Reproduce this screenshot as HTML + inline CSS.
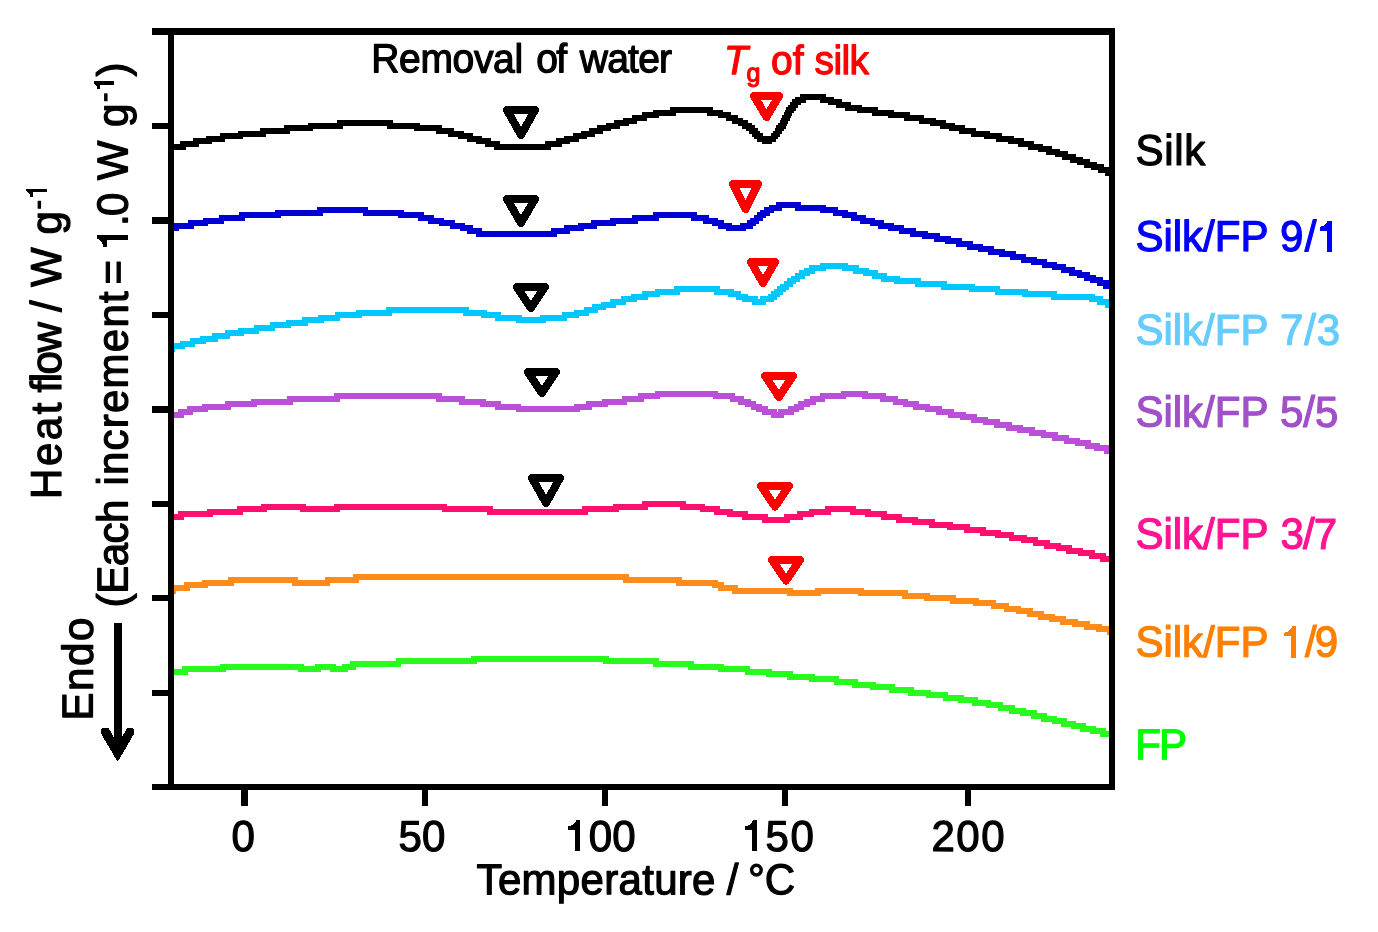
<!DOCTYPE html>
<html><head><meta charset="utf-8"><title>DSC</title>
<style>
html,body{margin:0;padding:0;background:#fff}
svg{display:block;will-change:transform}
text{font-family:"Liberation Sans",sans-serif}
</style></head><body>
<svg width="1378" height="932" viewBox="0 0 1378 932">
<rect width="1378" height="932" fill="#fff"/>
<clipPath id="cp"><rect x="171" y="32" width="941" height="755"/></clipPath>
<g shape-rendering="crispEdges" clip-path="url(#cp)">
<path fill="#000000" d="M168 144h12v6h-12zM180 141h6v9h-6zM186 141h7v6h-7zM193 138h6v9h-6zM199 138h7v6h-7zM206 136h6v8h-6zM212 136h8v6h-8zM220 133h5v9h-5zM225 133h13v6h-13zM238 131h5v8h-5zM243 131h17v6h-17zM260 128h6v9h-6zM266 128h18v6h-18zM284 125h6v9h-6zM290 125h18v6h-18zM308 123h5v8h-5zM313 123h24v6h-24zM337 120h6v9h-6zM343 120h44v6h-44zM387 120h6v9h-6zM393 123h21v6h-21zM414 123h6v8h-6zM420 125h16v6h-16zM436 125h6v9h-6zM442 128h6v6h-6zM448 128h6v9h-6zM454 131h4v6h-4zM458 131h6v8h-6zM464 133h3v6h-3zM467 133h6v9h-6zM473 136h3v6h-3zM476 136h6v8h-6zM482 138h3v6h-3zM485 138h6v9h-6zM491 141h3v6h-3zM494 141h6v9h-6zM500 144h45v6h-45zM545 141h6v9h-6zM551 141h5v6h-5zM556 138h6v9h-6zM562 138h2v6h-2zM564 136h6v8h-6zM570 136h3v6h-3zM573 133h6v9h-6zM579 133h2v6h-2zM581 131h6v8h-6zM587 131h2v6h-2zM589 128h6v9h-6zM595 128h2v6h-2zM597 125h6v9h-6zM603 125h3v6h-3zM606 123h5v8h-5zM611 123h3v6h-3zM614 120h6v9h-6zM620 120h3v6h-3zM623 118h6v8h-6zM629 118h3v6h-3zM632 115h5v9h-5zM637 115h5v6h-5zM642 112h5v9h-5zM647 112h6v6h-6zM653 110h6v8h-6zM659 110h11v6h-11zM670 107h6v9h-6zM676 107h31v6h-31zM707 107h6v9h-6zM713 110h5v6h-5zM718 110h5v8h-5zM723 112h3v6h-3zM726 112h5v9h-5zM731 115h1v6h-1zM732 115h6v9h-6zM738 118h4v8h-4zM742 118h1v11h-1zM743 120h3v9h-3zM746 120h2v11h-2zM748 123h1v8h-1zM749 123h3v11h-3zM752 125h2v12h-2zM754 125h1v14h-1zM755 128h2v11h-2zM757 128h1v14h-1zM758 131h2v11h-2zM760 133h2v9h-2zM762 133h1v11h-1zM763 136h8v8h-8zM771 133h1v11h-1zM772 133h1v9h-1zM773 131h2v11h-2zM775 128h1v14h-1zM776 125h2v14h-2zM778 123h2v14h-2zM780 120h1v14h-1zM781 118h1v16h-1zM782 115h2v16h-2zM784 112h1v17h-1zM785 110h1v19h-1zM786 107h1v19h-1zM787 107h1v17h-1zM788 105h2v16h-2zM790 102h1v16h-1zM791 102h1v14h-1zM792 99h2v14h-2zM794 99h1v12h-1zM795 97h1v14h-1zM796 97h2v11h-2zM798 97h2v8h-2zM800 94h1v11h-1zM801 94h5v9h-5zM806 94h14v6h-14zM820 94h6v9h-6zM826 97h2v6h-2zM828 97h6v8h-6zM834 99h2v6h-2zM836 99h6v9h-6zM842 102h3v6h-3zM845 102h6v9h-6zM851 105h6v6h-6zM857 105h5v8h-5zM862 107h10v6h-10zM872 107h6v9h-6zM878 110h10v6h-10zM888 110h6v8h-6zM894 112h10v6h-10zM904 112h6v9h-6zM910 115h9v6h-9zM919 115h5v9h-5zM924 118h6v6h-6zM930 118h6v8h-6zM936 120h4v6h-4zM940 120h6v9h-6zM946 123h3v6h-3zM949 123h6v8h-6zM955 125h4v6h-4zM959 125h6v9h-6zM965 128h6v6h-6zM971 128h5v9h-5zM976 131h8v6h-8zM984 131h6v8h-6zM990 133h6v6h-6zM996 133h6v9h-6zM1002 136h6v6h-6zM1008 136h6v8h-6zM1014 138h4v6h-4zM1018 138h6v9h-6zM1024 141h4v6h-4zM1028 141h6v9h-6zM1034 144h4v6h-4zM1038 144h5v8h-5zM1043 146h3v6h-3zM1046 146h6v9h-6zM1052 149h3v6h-3zM1055 149h5v8h-5zM1060 151h2v6h-2zM1062 151h6v9h-6zM1068 154h2v6h-2zM1070 154h6v9h-6zM1076 157h1v6h-1zM1077 157h6v8h-6zM1083 159h1v6h-1zM1084 159h6v9h-6zM1090 162h1v6h-1zM1091 162h6v8h-6zM1097 164h1v6h-1zM1098 164h6v9h-6zM1104 167h1v6h-1zM1105 167h6v9h-6zM1111 170h4v6h-4z"/>
<path fill="#0000d2" d="M168 225h6v6h-6zM174 223h5v8h-5zM179 223h9v6h-9zM188 220h6v9h-6zM194 220h9v6h-9zM203 218h5v8h-5zM208 218h11v6h-11zM219 215h5v9h-5zM224 215h15v6h-15zM239 212h6v9h-6zM245 212h30v6h-30zM275 210h6v8h-6zM281 210h36v6h-36zM317 207h6v9h-6zM323 207h40v6h-40zM363 207h5v9h-5zM368 210h30v6h-30zM398 210h6v8h-6zM404 212h14v6h-14zM418 212h6v9h-6zM424 215h4v6h-4zM428 215h6v9h-6zM434 218h5v6h-5zM439 218h5v8h-5zM444 220h6v6h-6zM450 220h5v9h-5zM455 223h5v6h-5zM460 223h5v8h-5zM465 225h2v6h-2zM467 225h6v9h-6zM473 228h3v6h-3zM476 228h6v9h-6zM482 231h69v6h-69zM551 228h6v9h-6zM557 228h7v6h-7zM564 225h6v9h-6zM570 225h8v6h-8zM578 223h6v8h-6zM584 223h7v6h-7zM591 220h6v9h-6zM597 220h13v6h-13zM610 218h6v8h-6zM616 218h16v6h-16zM632 215h6v9h-6zM638 215h15v6h-15zM653 212h6v9h-6zM659 212h32v6h-32zM691 212h6v9h-6zM697 215h6v6h-6zM703 215h6v9h-6zM709 218h3v6h-3zM712 218h6v8h-6zM718 220h6v9h-6zM724 223h2v6h-2zM726 223h6v8h-6zM732 225h8v6h-8zM740 223h6v8h-6zM746 223h1v6h-1zM747 220h3v9h-3zM750 218h3v11h-3zM753 218h1v8h-1zM754 215h2v11h-2zM756 215h1v9h-1zM757 212h2v12h-2zM759 212h1v9h-1zM760 210h3v11h-3zM763 210h1v8h-1zM764 207h2v11h-2zM766 207h3v9h-3zM769 205h1v11h-1zM770 205h4v8h-4zM774 205h2v6h-2zM776 202h6v9h-6zM782 202h13v6h-13zM795 202h6v9h-6zM801 205h19v6h-19zM820 205h6v8h-6zM826 207h7v6h-7zM833 207h5v9h-5zM838 210h4v6h-4zM842 210h6v8h-6zM848 212h3v6h-3zM851 212h6v9h-6zM857 215h3v6h-3zM860 215h6v9h-6zM866 218h4v6h-4zM870 218h5v8h-5zM875 220h3v6h-3zM878 220h6v9h-6zM884 223h4v6h-4zM888 223h6v8h-6zM894 225h5v6h-5zM899 225h5v9h-5zM904 228h6v6h-6zM910 228h6v9h-6zM916 231h6v6h-6zM922 231h6v8h-6zM928 233h6v6h-6zM934 233h6v9h-6zM940 236h5v6h-5zM945 236h6v8h-6zM951 238h5v6h-5zM956 238h6v9h-6zM962 241h5v6h-5zM967 241h6v9h-6zM973 244h5v6h-5zM978 244h5v8h-5zM983 246h5v6h-5zM988 246h6v9h-6zM994 249h5v6h-5zM999 249h6v8h-6zM1005 251h5v6h-5zM1010 251h6v9h-6zM1016 254h5v6h-5zM1021 254h5v9h-5zM1026 257h5v6h-5zM1031 257h6v8h-6zM1037 259h5v6h-5zM1042 259h5v9h-5zM1047 262h5v6h-5zM1052 262h5v8h-5zM1057 264h4v6h-4zM1061 264h5v9h-5zM1066 267h3v6h-3zM1069 267h6v9h-6zM1075 270h2v6h-2zM1077 270h5v8h-5zM1082 272h2v6h-2zM1084 272h6v9h-6zM1090 275h6v8h-6zM1096 277h1v6h-1zM1097 277h6v9h-6zM1103 280h6v9h-6zM1109 283h6v6h-6z"/>
<path fill="#00c8ff" d="M168 346h1v6h-1zM169 343h6v9h-6zM175 343h5v6h-5zM180 341h5v8h-5zM185 341h5v6h-5zM190 338h5v9h-5zM195 338h5v6h-5zM200 336h6v8h-6zM206 336h6v6h-6zM212 333h6v9h-6zM218 333h7v6h-7zM225 330h5v9h-5zM230 330h8v6h-8zM238 328h6v8h-6zM244 328h10v6h-10zM254 325h5v9h-5zM259 325h11v6h-11zM270 322h5v9h-5zM275 322h11v6h-11zM286 320h5v8h-5zM291 320h11v6h-11zM302 317h6v9h-6zM308 317h10v6h-10zM318 315h6v8h-6zM324 315h11v6h-11zM335 312h5v9h-5zM340 312h16v6h-16zM356 310h6v8h-6zM362 310h24v6h-24zM386 307h6v9h-6zM392 307h71v6h-71zM463 307h6v9h-6zM469 310h12v6h-12zM481 310h6v8h-6zM487 312h8v6h-8zM495 312h6v9h-6zM501 315h15v6h-15zM516 315h6v8h-6zM522 317h18v6h-18zM540 315h6v8h-6zM546 315h16v6h-16zM562 312h5v9h-5zM567 312h7v6h-7zM574 310h5v8h-5zM579 310h5v6h-5zM584 307h5v9h-5zM589 307h3v6h-3zM592 304h6v9h-6zM598 304h3v6h-3zM601 302h5v8h-5zM606 302h4v6h-4zM610 299h6v9h-6zM616 299h5v6h-5zM621 296h5v9h-5zM626 296h5v6h-5zM631 294h6v8h-6zM637 294h5v6h-5zM642 291h6v9h-6zM648 291h7v6h-7zM655 289h5v8h-5zM660 289h14v6h-14zM674 286h6v9h-6zM680 286h34v6h-34zM714 286h6v9h-6zM720 289h8v6h-8zM728 289h6v8h-6zM734 291h2v6h-2zM736 291h5v9h-5zM741 294h1v6h-1zM742 294h6v8h-6zM748 296h4v6h-4zM752 296h6v9h-6zM758 299h2v6h-2zM760 296h6v9h-6zM766 296h2v6h-2zM768 294h3v8h-3zM771 291h3v11h-3zM774 289h3v11h-3zM777 286h3v11h-3zM780 284h3v11h-3zM783 284h1v8h-1zM784 281h2v11h-2zM786 281h1v9h-1zM787 278h2v12h-2zM789 278h2v9h-2zM791 276h2v11h-2zM793 276h2v8h-2zM795 273h1v11h-1zM796 273h3v9h-3zM799 270h1v12h-1zM800 270h4v9h-4zM804 268h1v11h-1zM805 268h4v8h-4zM809 265h1v11h-1zM810 265h5v9h-5zM815 265h5v6h-5zM820 263h6v8h-6zM826 263h16v6h-16zM842 263h6v8h-6zM848 265h5v6h-5zM853 265h6v9h-6zM859 268h4v6h-4zM863 268h6v8h-6zM869 270h3v6h-3zM872 270h6v9h-6zM878 273h3v6h-3zM881 273h6v9h-6zM887 276h7v6h-7zM894 276h6v8h-6zM900 278h15v6h-15zM915 278h6v9h-6zM921 281h20v6h-20zM941 281h6v9h-6zM947 284h22v6h-22zM969 284h6v8h-6zM975 286h20v6h-20zM995 286h5v9h-5zM1000 289h22v6h-22zM1022 289h6v8h-6zM1028 291h23v6h-23zM1051 291h6v9h-6zM1057 294h32v6h-32zM1089 294h6v8h-6zM1095 296h2v6h-2zM1097 296h6v9h-6zM1103 299h2v6h-2zM1105 299h6v9h-6zM1111 302h4v6h-4z"/>
<path fill="#ba50d8" d="M168 412h10v6h-10zM178 409h6v9h-6zM184 409h3v6h-3zM187 406h6v9h-6zM193 406h9v6h-9zM202 404h6v8h-6zM208 404h17v6h-17zM225 401h6v9h-6zM231 401h20v6h-20zM251 399h6v8h-6zM257 399h30v6h-30zM287 396h6v9h-6zM293 396h41v6h-41zM334 393h6v9h-6zM340 393h96v6h-96zM436 393h6v9h-6zM442 396h17v6h-17zM459 396h6v9h-6zM465 399h15v6h-15zM480 399h6v8h-6zM486 401h9v6h-9zM495 401h6v9h-6zM501 404h15v6h-15zM516 404h5v8h-5zM521 406h53v6h-53zM574 404h6v8h-6zM580 404h6v6h-6zM586 401h6v9h-6zM592 401h10v6h-10zM602 399h6v8h-6zM608 399h14v6h-14zM622 396h5v9h-5zM627 396h11v6h-11zM638 393h6v9h-6zM644 393h11v6h-11zM655 391h5v8h-5zM660 391h53v6h-53zM713 391h5v8h-5zM718 393h12v6h-12zM730 393h5v9h-5zM735 396h3v6h-3zM738 396h6v9h-6zM744 399h1v6h-1zM745 399h6v8h-6zM751 401h5v9h-5zM756 404h6v8h-6zM762 406h6v9h-6zM768 409h3v6h-3zM771 409h6v9h-6zM777 412h1v6h-1zM778 409h6v9h-6zM784 409h4v6h-4zM788 406h6v9h-6zM794 404h4v8h-4zM798 401h1v11h-1zM799 401h5v9h-5zM804 399h6v8h-6zM810 396h6v9h-6zM816 396h4v6h-4zM820 393h5v9h-5zM825 393h16v6h-16zM841 391h5v8h-5zM846 391h16v6h-16zM862 391h6v8h-6zM868 393h12v6h-12zM880 393h6v9h-6zM886 396h7v6h-7zM893 396h5v9h-5zM898 399h5v6h-5zM903 399h5v8h-5zM908 401h5v6h-5zM913 401h6v9h-6zM919 404h6v6h-6zM925 404h5v8h-5zM930 406h6v6h-6zM936 406h6v9h-6zM942 409h6v6h-6zM948 409h6v9h-6zM954 412h6v6h-6zM960 412h6v8h-6zM966 414h5v6h-5zM971 414h6v9h-6zM977 417h6v6h-6zM983 417h5v8h-5zM988 419h6v6h-6zM994 419h6v9h-6zM1000 422h6v6h-6zM1006 422h6v9h-6zM1012 425h5v6h-5zM1017 425h6v8h-6zM1023 427h6v6h-6zM1029 427h6v9h-6zM1035 430h6v6h-6zM1041 430h5v8h-5zM1046 432h6v6h-6zM1052 432h6v9h-6zM1058 435h6v6h-6zM1064 435h5v9h-5zM1069 438h6v6h-6zM1075 438h5v8h-5zM1080 440h5v6h-5zM1085 440h6v9h-6zM1091 443h3v6h-3zM1094 443h6v8h-6zM1100 445h4v6h-4zM1104 445h6v9h-6zM1110 448h5v6h-5z"/>
<path fill="#ff0f6e" d="M168 514h10v6h-10zM178 511h6v9h-6zM184 511h23v6h-23zM207 509h6v8h-6zM213 509h24v6h-24zM237 506h6v9h-6zM243 506h18v6h-18zM261 504h6v8h-6zM267 504h33v6h-33zM300 504h6v8h-6zM306 506h28v6h-28zM334 504h6v8h-6zM340 504h102v6h-102zM442 504h5v8h-5zM447 506h40v6h-40zM487 506h6v9h-6zM493 509h89v6h-89zM582 506h6v9h-6zM588 506h25v6h-25zM613 504h6v8h-6zM619 504h23v6h-23zM642 501h6v9h-6zM648 501h32v6h-32zM680 501h6v9h-6zM686 504h14v6h-14zM700 504h5v8h-5zM705 506h9v6h-9zM714 506h6v9h-6zM720 509h7v6h-7zM727 509h6v8h-6zM733 511h9v6h-9zM742 511h6v9h-6zM748 514h14v6h-14zM762 514h6v9h-6zM768 517h16v6h-16zM784 514h6v9h-6zM790 514h7v6h-7zM797 511h6v9h-6zM803 511h6v6h-6zM809 509h5v8h-5zM814 509h11v6h-11zM825 506h6v9h-6zM831 506h19v6h-19zM850 506h6v9h-6zM856 509h9v6h-9zM865 509h6v8h-6zM871 511h10v6h-10zM881 511h6v9h-6zM887 514h9v6h-9zM896 514h6v9h-6zM902 517h10v6h-10zM912 517h6v8h-6zM918 519h11v6h-11zM929 519h6v9h-6zM935 522h12v6h-12zM947 522h6v8h-6zM953 524h11v6h-11zM964 524h6v9h-6zM970 527h10v6h-10zM980 527h6v9h-6zM986 530h9v6h-9zM995 530h6v8h-6zM1001 532h8v6h-8zM1009 532h5v9h-5zM1014 535h7v6h-7zM1021 535h6v8h-6zM1027 537h6v6h-6zM1033 537h5v9h-5zM1038 540h6v6h-6zM1044 540h6v9h-6zM1050 543h6v6h-6zM1056 543h5v8h-5zM1061 545h5v6h-5zM1066 545h6v9h-6zM1072 548h6v6h-6zM1078 548h5v8h-5zM1083 550h6v6h-6zM1089 550h6v9h-6zM1095 553h5v6h-5zM1100 553h6v9h-6zM1106 556h9v6h-9z"/>
<path fill="#ff8c1a" d="M168 588h2v6h-2zM170 585h6v9h-6zM176 585h8v6h-8zM184 582h6v9h-6zM190 582h12v6h-12zM202 580h6v8h-6zM208 580h20v6h-20zM228 577h6v9h-6zM234 577h58v6h-58zM292 577h6v9h-6zM298 580h27v6h-27zM325 577h5v9h-5zM330 577h23v6h-23zM353 574h6v9h-6zM359 574h264v6h-264zM623 574h6v9h-6zM629 577h47v6h-47zM676 577h6v9h-6zM682 580h30v6h-30zM712 580h6v8h-6zM718 582h6v9h-6zM724 585h8v6h-8zM732 585h6v9h-6zM738 588h49v6h-49zM787 588h6v8h-6zM793 590h22v6h-22zM815 588h6v8h-6zM821 588h37v6h-37zM858 588h6v8h-6zM864 590h38v6h-38zM902 590h6v9h-6zM908 593h16v6h-16zM924 593h6v8h-6zM930 595h20v6h-20zM950 595h6v9h-6zM956 598h17v6h-17zM973 598h6v8h-6zM979 600h12v6h-12zM991 600h5v9h-5zM996 603h8v6h-8zM1004 603h5v9h-5zM1009 606h7v6h-7zM1016 606h5v8h-5zM1021 608h6v6h-6zM1027 608h6v9h-6zM1033 611h5v6h-5zM1038 611h6v9h-6zM1044 614h5v6h-5zM1049 614h6v8h-6zM1055 616h5v6h-5zM1060 616h6v9h-6zM1066 619h6v6h-6zM1072 619h6v8h-6zM1078 621h6v6h-6zM1084 621h6v9h-6zM1090 624h6v6h-6zM1096 624h6v8h-6zM1102 626h5v6h-5zM1107 626h6v9h-6zM1113 629h2v6h-2z"/>
<path fill="#28fa1e" d="M168 669h14v6h-14zM182 666h6v9h-6zM188 666h32v6h-32zM220 664h6v8h-6zM226 664h72v6h-72zM298 664h6v8h-6zM304 666h11v6h-11zM315 664h6v8h-6zM321 664h9v6h-9zM330 664h6v8h-6zM336 666h6v6h-6zM342 664h6v8h-6zM348 664h2v6h-2zM350 661h6v9h-6zM356 661h40v6h-40zM396 658h5v9h-5zM401 658h70v6h-70zM471 656h6v8h-6zM477 656h126v6h-126zM603 656h6v8h-6zM609 658h44v6h-44zM653 658h6v9h-6zM659 661h29v6h-29zM688 661h6v9h-6zM694 664h24v6h-24zM718 664h6v8h-6zM724 666h21v6h-21zM745 666h5v9h-5zM750 669h16v6h-16zM766 669h6v8h-6zM772 671h15v6h-15zM787 671h6v9h-6zM793 674h16v6h-16zM809 674h6v8h-6zM815 676h19v6h-19zM834 676h5v9h-5zM839 679h13v6h-13zM852 679h6v9h-6zM858 682h12v6h-12zM870 682h6v8h-6zM876 684h13v6h-13zM889 684h6v9h-6zM895 687h13v6h-13zM908 687h6v9h-6zM914 690h12v6h-12zM926 690h5v8h-5zM931 692h12v6h-12zM943 692h5v9h-5zM948 695h10v6h-10zM958 695h6v8h-6zM964 697h8v6h-8zM972 697h6v9h-6zM978 700h8v6h-8zM986 700h5v8h-5zM991 702h7v6h-7zM998 702h5v9h-5zM1003 705h6v6h-6zM1009 705h6v9h-6zM1015 708h5v6h-5zM1020 708h6v8h-6zM1026 710h5v6h-5zM1031 710h6v9h-6zM1037 713h4v6h-4zM1041 713h6v9h-6zM1047 716h5v6h-5zM1052 716h5v8h-5zM1057 718h4v6h-4zM1061 718h6v9h-6zM1067 721h4v6h-4zM1071 721h5v8h-5zM1076 723h4v6h-4zM1080 723h6v9h-6zM1086 726h4v6h-4zM1090 726h6v8h-6zM1096 728h4v6h-4zM1100 728h6v9h-6zM1106 731h9v6h-9z"/>
</g>
<g shape-rendering="crispEdges" fill="#000">
<rect x="152" y="28" width="963" height="7"/>
<rect x="152" y="784" width="963" height="6"/>
<rect x="168" y="28" width="6" height="762"/>
<rect x="1109" y="28" width="6" height="762"/>
<rect x="152" y="123" width="17" height="6"/><rect x="152" y="217" width="17" height="7"/><rect x="152" y="312" width="17" height="6"/><rect x="152" y="406" width="17" height="7"/><rect x="152" y="501" width="17" height="6"/><rect x="152" y="595" width="17" height="6"/><rect x="152" y="690" width="17" height="6"/><rect x="241" y="789" width="7" height="17"/><rect x="422" y="789" width="6" height="17"/><rect x="602" y="789" width="6" height="17"/><rect x="782" y="789" width="6" height="17"/><rect x="965" y="789" width="6" height="17"/>
</g>
<g shape-rendering="crispEdges">
<path d="M507 110L535 110L521.0 135Z" fill="#fff" stroke="#000" stroke-width="8" stroke-linejoin="round"/>
<path d="M507 199L535 199L521.0 223Z" fill="#fff" stroke="#000" stroke-width="8" stroke-linejoin="round"/>
<path d="M517 287L545 287L531.0 308Z" fill="#fff" stroke="#000" stroke-width="8" stroke-linejoin="round"/>
<path d="M528 372L556 372L542.0 393Z" fill="#fff" stroke="#000" stroke-width="8" stroke-linejoin="round"/>
<path d="M532 478L560 478L546.0 503Z" fill="#fff" stroke="#000" stroke-width="8" stroke-linejoin="round"/>
<path d="M754 96L779 96L766.5 117Z" fill="#fff" stroke="#ff0000" stroke-width="8" stroke-linejoin="round"/>
<path d="M733 184L758 184L745.5 209Z" fill="#fff" stroke="#ff0000" stroke-width="8" stroke-linejoin="round"/>
<path d="M751 262L775 262L763.0 283Z" fill="#fff" stroke="#ff0000" stroke-width="8" stroke-linejoin="round"/>
<path d="M765 376L793 376L779.0 397Z" fill="#fff" stroke="#ff0000" stroke-width="8" stroke-linejoin="round"/>
<path d="M761 486L789 486L775.0 506.5Z" fill="#fff" stroke="#ff0000" stroke-width="8" stroke-linejoin="round"/>
<path d="M772 560L800 560L786.0 580.5Z" fill="#fff" stroke="#ff0000" stroke-width="8" stroke-linejoin="round"/>
</g>
<g fill="#000" stroke="#000" shape-rendering="crispEdges">
<rect x="114" y="623" width="8" height="120" stroke="none" shape-rendering="crispEdges"/>
<path d="M102.6 729.6L108 729.4L114 740L122 740L127.6 729.4L133 729.6L132.8 733.5L117.7 759.5L102.4 733.5Z" stroke-width="2.5" stroke-linejoin="round"/>
</g>
<g stroke-width="1.2" stroke-linejoin="round">
<text id="t0" transform="translate(231.4,851) rotate(0.05) scale(1,1.03)" font-size="42" fill="#000" stroke="#000">0</text>
<text id="t50" transform="translate(398.6,851) rotate(0.05) scale(1,1.03)" font-size="42" fill="#000" stroke="#000">50</text>
<text id="t100" transform="translate(588.8,851) rotate(0.05) scale(1,1.03)" font-size="42" fill="#000" stroke="#000">00</text>
<text id="t150" transform="translate(765.4,851) rotate(0.05) scale(1,1.03)" font-size="42" fill="#000" stroke="#000" textLength="48.5" lengthAdjust="spacing">50</text>
<text id="t200" transform="translate(931.4,851) rotate(0.05) scale(1,1.03)" font-size="42" fill="#000" stroke="#000" textLength="73.3" lengthAdjust="spacing">200</text>
<text id="xl1" transform="translate(476.6,894.2) rotate(0.05) scale(1,1.03)" font-size="42" fill="#000" stroke="#000" textLength="238.9" lengthAdjust="spacing">Temperature</text>
<text id="xl2" transform="translate(726.8,894.2) rotate(0.05) scale(1,1.03)" font-size="42" fill="#000" stroke="#000">/</text>
<text id="xl3" transform="translate(748.0,894.2) rotate(0.05) scale(1,1.03)" font-size="42" fill="#000" stroke="#000">°C</text>
<text id="rw1" transform="translate(371.2,72.3) rotate(0.05) scale(1,1.04)" font-size="39" fill="#000" stroke="#000" textLength="151.9" lengthAdjust="spacing">Removal</text>
<text id="rw2" transform="translate(536.2,72.3) rotate(0.05) scale(1,1.04)" font-size="39" fill="#000" stroke="#000" textLength="30.9" lengthAdjust="spacing">of</text>
<text id="rw3" transform="translate(579.8,72.3) rotate(0.05) scale(1,1.04)" font-size="39" fill="#000" stroke="#000" textLength="92.3" lengthAdjust="spacing">water</text>
<text id="tg3" transform="translate(771.0,73.9) rotate(0.05) scale(1,1.04)" font-size="39" fill="#ff0000" stroke="#ff0000">of</text>
<text id="tg4" transform="translate(814.6,73.9) rotate(0.05) scale(1,1.04)" font-size="39" fill="#ff0000" stroke="#ff0000" textLength="54.3" lengthAdjust="spacing">silk</text>
<text id="l1" transform="translate(1135.4,165) rotate(0.05) scale(1,1.03)" font-size="42" fill="#000" stroke="#000" textLength="69.9" lengthAdjust="spacing">Silk</text>
<text id="l2a" transform="translate(1135.4,251) rotate(0.05) scale(1,1.03)" font-size="42" fill="#0000ff" stroke="#0000ff">Silk/FP</text>
<text id="l2b" transform="translate(1280.0,251) rotate(0.05) scale(1,1.03)" font-size="42" fill="#0000ff" stroke="#0000ff" textLength="36.5" lengthAdjust="spacing">9/</text>
<text id="l3a" transform="translate(1135.4,344.6) rotate(0.05) scale(1,1.03)" font-size="42" fill="#66ccff" stroke="#66ccff">Silk/FP</text>
<text id="l3b" transform="translate(1280.0,344.6) rotate(0.05) scale(1,1.03)" font-size="42" fill="#66ccff" stroke="#66ccff" textLength="60.0" lengthAdjust="spacing">7/3</text>
<text id="l4a" transform="translate(1135.4,426.6) rotate(0.05) scale(1,1.03)" font-size="42" fill="#a050c8" stroke="#a050c8">Silk/FP</text>
<text id="l4b" transform="translate(1280.0,426.6) rotate(0.05) scale(1,1.03)" font-size="42" fill="#a050c8" stroke="#a050c8">5/5</text>
<text id="l5a" transform="translate(1135.4,548.6) rotate(0.05) scale(1,1.03)" font-size="42" fill="#ff1493" stroke="#ff1493">Silk/FP</text>
<text id="l5b" transform="translate(1280.4,548.6) rotate(0.05) scale(1,1.03)" font-size="42" fill="#ff1493" stroke="#ff1493" textLength="56.8" lengthAdjust="spacing">3/7</text>
<text id="l6a" transform="translate(1135.4,656.6) rotate(0.05) scale(1,1.03)" font-size="42" fill="#ff8000" stroke="#ff8000">Silk/FP</text>
<text id="l6b" transform="translate(1305.0,656.6) rotate(0.05) scale(1,1.03)" font-size="42" fill="#ff8000" stroke="#ff8000" textLength="33.1" lengthAdjust="spacing">/9</text>
<text id="l7" transform="translate(1135.2,759.2) rotate(0.05) scale(1,1.03)" font-size="42" fill="#00ff00" stroke="#00ff00" textLength="51.9" lengthAdjust="spacing">FP</text>
<text id="w2a" transform="translate(127.5,607.4) rotate(-89.95) scale(1,1.03)" font-size="42" fill="#000" stroke="#000" textLength="107.9" lengthAdjust="spacing">(Each</text>
<text id="w2b" transform="translate(127.5,485.6) rotate(-89.95) scale(1,1.03)" font-size="42" fill="#000" stroke="#000" textLength="194.3" lengthAdjust="spacing">increment</text>
<text id="w2c" transform="translate(127.5,284.5) rotate(-89.95) scale(1,1.03)" font-size="42" fill="#000" stroke="#000">=</text>
<text id="w2d" transform="translate(127.5,225.9) rotate(-89.95) scale(1,1.03)" font-size="42" fill="#000" stroke="#000" textLength="33.2" lengthAdjust="spacing">.0</text>
<text id="w2e" transform="translate(127.5,180.3) rotate(-89.95) scale(1,1.03)" font-size="42" fill="#000" stroke="#000">W</text>
<text id="w2f" transform="translate(127.5,126.9) rotate(-89.95) scale(1,1.03)" font-size="42" fill="#000" stroke="#000">g</text>
<text id="w2g" transform="translate(113.5,102.0) rotate(-89.95) scale(1,1.03)" font-size="28" fill="#000" stroke="#000">-</text>
<text id="w2h" transform="translate(127.5,76.5) rotate(-89.95) scale(1,1.03)" font-size="42" fill="#000" stroke="#000">)</text>
<text id="w1a" transform="translate(61,499.0) rotate(-89.95) scale(1,1.03)" font-size="42" fill="#000" stroke="#000" textLength="96.4" lengthAdjust="spacing">Heat</text>
<text id="w1b" transform="translate(61,392.6) rotate(-89.95) scale(1,1.03)" font-size="42" fill="#000" stroke="#000" textLength="70.5" lengthAdjust="spacing">flow</text>
<text id="w1c" transform="translate(61,312.1) rotate(-89.95) scale(1,1.03)" font-size="42" fill="#000" stroke="#000">/</text>
<text id="w1d" transform="translate(61,287.1) rotate(-89.95) scale(1,1.03)" font-size="42" fill="#000" stroke="#000">W</text>
<text id="w1e" transform="translate(61,234.6) rotate(-89.95) scale(1,1.03)" font-size="42" fill="#000" stroke="#000">g</text>
<text id="w1f" transform="translate(47,209.4) rotate(-89.95) scale(1,1.03)" font-size="28" fill="#000" stroke="#000">-</text>
<text id="endo" transform="translate(92.6,720.6) rotate(-89.95) scale(1,1.03)" font-size="42" fill="#000" stroke="#000" textLength="102.9" lengthAdjust="spacing">Endo</text>
<text id="tg1" transform="translate(724,73.9) rotate(0.05) scale(1,1.04)" font-size="39" font-style="italic" fill="#ff0000" stroke="#ff0000">T</text>
<text id="tg2" transform="translate(746.5,81.5) rotate(0.05) scale(1,1.03)" font-size="25" fill="#ff0000" stroke="#ff0000">g</text>
</g>
<g shape-rendering="crispEdges">
<path d="M12.1 0V-31.1H8.4C7.6-28.5 4.5-25.2 0-24.9V-21.1H7.1V0Z" transform="translate(567.9,851.2) scale(1.0000)" fill="#000"/>
<path d="M12.1 0V-31.1H8.4C7.6-28.5 4.5-25.2 0-24.9V-21.1H7.1V0Z" transform="translate(744.7,851.2) scale(1.0000)" fill="#000"/>
<path d="M12.1 0V-31.1H8.4C7.6-28.5 4.5-25.2 0-24.9V-21.1H7.1V0Z" transform="translate(1319.5,251.7) scale(1.0000)" fill="#0000ff"/>
<path d="M12.1 0V-31.1H8.4C7.6-28.5 4.5-25.2 0-24.9V-21.1H7.1V0Z" transform="translate(1283.9,657.6) scale(1.0000)" fill="#ff8000"/>
<path d="M12.1 0V-31.1H8.4C7.6-28.5 4.5-25.2 0-24.9V-21.1H7.1V0Z" transform="translate(128.1,246.9) rotate(-90) scale(1.0000)" fill="#000"/>
<path d="M12.1 0V-31.1H8.4C7.6-28.5 4.5-25.2 0-24.9V-21.1H7.1V0Z" transform="translate(114.3,89.4) rotate(-90) scale(0.6667)" fill="#000"/>
<path d="M12.1 0V-31.1H8.4C7.6-28.5 4.5-25.2 0-24.9V-21.1H7.1V0Z" transform="translate(47.1,197) rotate(-90) scale(0.6667)" fill="#000"/>
</g>
</svg>
</body></html>
